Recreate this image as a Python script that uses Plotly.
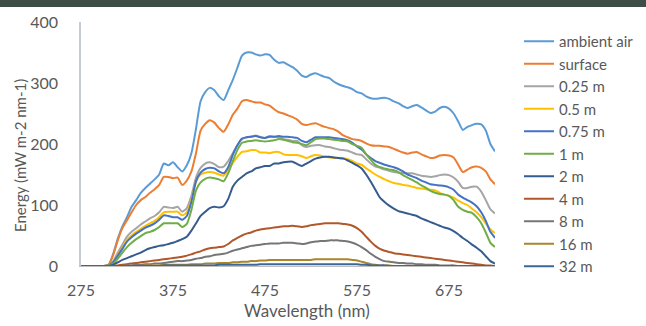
import plotly.graph_objects as go

# Wavelength grid (nm), 5 nm steps
wavelength = list(range(275, 726, 5))

ambient_air = [
    0, 0, 0, 0, 0, 0, 2, 20, 45, 65,
    80, 97, 108, 120, 128, 135, 142, 150, 168, 165,
    170, 162, 155, 165, 185, 225, 270, 285, 292, 288,
    278, 272, 288, 305, 325, 345, 350, 350, 347, 345,
    347, 346, 338, 333, 334, 330, 326, 320, 312, 310,
    314, 316, 313, 310, 308, 302, 298, 295, 293, 290,
    285, 283, 278, 275, 274, 275, 276, 274, 270, 267,
    262, 259, 262, 264, 260, 255, 251, 253, 259, 261,
    258, 250, 237, 223, 228, 231, 233, 232, 222, 200,
    188,
]
surface = [
    0, 0, 0, 0, 0, 0, 2, 18, 42, 62,
    75, 88, 100, 108, 113, 120, 126, 133, 146, 146,
    144, 145, 133, 140, 155, 185, 222, 233, 239, 235,
    226, 220, 232, 248, 258, 270, 272, 270, 268, 268,
    265, 263, 257, 252, 250, 247, 244, 240, 233, 231,
    233, 234, 231, 228, 226, 224, 220, 214, 211, 208,
    207, 205, 201, 198, 197, 197, 196, 195, 192, 189,
    186, 184, 186, 187, 183, 180, 177, 178, 181, 182,
    181, 178, 166, 154, 158, 162, 163, 161, 155, 142,
    134,
]
d_025 = [
    0, 0, 0, 0, 0, 0, 1, 8, 22, 35,
    48, 56, 62, 68, 73, 78, 82, 88, 97, 96,
    95, 97, 89, 95, 115, 145, 161, 168, 170, 167,
    162, 163, 172, 185, 198, 208, 211, 212, 214, 211,
    210, 213, 212, 211, 208, 207, 205, 205, 198, 195,
    197, 198, 198, 196, 195, 193, 191, 190, 189, 186,
    183, 182, 175, 168, 163, 161, 158, 156, 154, 153,
    152, 152, 152, 150, 148, 147, 146, 147, 149, 150,
    149, 145, 138, 128, 128, 130, 130, 122, 108, 93,
    86,
]
d_05 = [
    0, 0, 0, 0, 0, 0, 1, 6, 18, 30,
    43, 50, 56, 61, 66, 70, 74, 80, 88, 89,
    89, 89, 83, 88, 108, 138, 150, 153, 154, 153,
    150, 148, 158, 169, 179, 187, 188, 190, 190, 186,
    186, 185, 187, 187, 183, 182, 182, 182, 180, 177,
    180, 182, 181, 179, 178, 177, 177, 177, 175, 172,
    168, 166, 160, 155, 150, 146, 142, 139, 136, 135,
    133, 132, 130, 128, 127, 126, 125, 124, 120, 117,
    115, 112, 107, 103, 100, 94, 88, 80, 70, 60,
    54,
]
d_075 = [
    0, 0, 0, 0, 0, 0, 1, 6, 17, 28,
    40, 47, 53, 58, 63, 66, 70, 76, 83, 82,
    80, 80, 76, 82, 105, 139, 153, 159, 161, 160,
    155, 152, 162, 182, 198, 209, 211, 212, 213, 211,
    210, 212, 212, 213, 212, 212, 211, 210, 205, 203,
    207, 211, 211, 211, 211, 210, 209, 208, 206, 202,
    196, 191, 183, 177, 172, 169, 166, 164, 162, 159,
    155, 150, 147, 144, 140, 137, 134, 133, 132, 131,
    129, 125, 117, 112, 108, 104, 98, 88, 74, 56,
    46,
]
d_1 = [
    0, 0, 0, 0, 0, 0, 1, 4, 12, 22,
    31, 38, 44, 49, 54, 56, 59, 64, 70, 70,
    70, 70, 64, 69, 92, 124, 137, 143, 145, 144,
    142, 139, 152, 172, 190, 202, 204, 205, 206, 205,
    204, 205, 206, 208, 207, 205, 203, 202, 200, 198,
    203, 208, 209, 209, 208, 207, 206, 205, 204, 200,
    197, 194, 183, 174, 166, 162, 160, 158, 157, 154,
    149, 145, 141, 137, 132, 128, 123, 120, 118, 117,
    115, 108, 97, 92, 89, 87, 80, 70, 55, 38,
    31,
]
d_2 = [
    0, 0, 0, 0, 0, 0, 0, 2, 6, 10,
    13, 16, 19, 22, 26, 29, 31, 33, 34, 36,
    38, 41, 44, 48, 58, 70, 82, 89, 95, 97,
    96, 98, 110, 130, 140, 146, 152, 155, 160, 162,
    164, 164, 168, 168, 170, 171, 171, 167, 164, 168,
    172, 176, 178, 179, 179, 178, 177, 176, 173, 169,
    165, 160, 150, 138, 125, 112, 105, 99, 94, 90,
    88, 86, 84, 82, 78, 75, 72, 69, 66, 63,
    61, 57, 52, 46, 41, 35, 30, 24, 16, 8,
    4,
]
d_4 = [
    0, 0, 0, 0, 0, 0, 0, 0, 1, 2,
    3, 4, 5, 6, 7, 8, 9, 10, 11, 12,
    13, 14, 15, 17, 19, 22, 24, 27, 29, 30,
    31, 32, 36, 42, 46, 50, 53, 55, 58, 60,
    61, 62, 63, 64, 65, 65, 66, 65, 64, 65,
    67, 68, 69, 70, 70, 70, 70, 69, 68, 66,
    62, 56, 48, 40, 33, 28, 25, 23, 21, 20,
    19, 18, 17, 16, 15, 14, 13, 12, 11, 10,
    9, 8, 7, 6, 5, 4, 3, 2, 1, 1,
    0,
]
d_8 = [
    0, 0, 0, 0, 0, 0, 0, 0, 0, 0,
    1, 1, 2, 2, 3, 3, 4, 4, 5, 6,
    7, 8, 8, 9, 10, 12, 13, 15, 16, 18,
    19, 20, 22, 25, 27, 29, 31, 33, 34, 35,
    36, 37, 37, 37, 38, 38, 38, 37, 36, 37,
    39, 40, 41, 41, 42, 42, 42, 41, 40, 38,
    35, 31, 26, 20, 15, 11, 8, 7, 6, 5,
    5, 4, 4, 3, 3, 2, 2, 2, 1, 1,
    1, 1, 0, 0, 0, 0, 0, 0, 0, 0,
    0,
]
d_16 = [
    0, 0, 0, 0, 0, 0, 0, 0, 0, 0,
    0, 0, 0, 0, 1, 1, 1, 1, 2, 2,
    2, 2, 2, 2, 3, 3, 3, 4, 4, 4,
    5, 5, 5, 6, 6, 7, 7, 8, 8, 9,
    9, 10, 10, 10, 10, 10, 10, 10, 10, 10,
    10, 11, 11, 11, 11, 11, 11, 11, 11, 10,
    9, 7, 5, 3, 2, 1, 1, 1, 0, 0,
    0, 0, 0, 0, 0, 0, 0, 0, 0, 0,
    0, 0, 0, 0, 0, 0, 0, 0, 0, 0,
    0,
]
d_32 = [
    0, 0, 0, 0, 0, 0, 0, 0, 0, 0,
    0, 0, 0, 0, 0, 0, 0, 0, 1, 1,
    1, 1, 1, 1, 1, 1, 1, 1, 1, 1,
    2, 2, 2, 2, 2, 2, 2, 2, 2, 3,
    3, 3, 3, 3, 3, 3, 3, 3, 3, 3,
    3, 3, 3, 3, 3, 3, 3, 3, 3, 3,
    3, 2, 2, 1, 1, 1, 1, 0, 0, 0,
    0, 0, 0, 0, 0, 0, 0, 0, 0, 0,
    0, 0, 0, 0, 0, 0, 0, 0, 0, 0,
    0,
]

series_names = ["ambient air", "surface", "0.25 m", "0.5 m", "0.75 m",
                "1 m", "2 m", "4 m", "8 m", "16 m", "32 m"]
series_values = [ambient_air, surface, d_025, d_05, d_075,
                 d_1, d_2, d_4, d_8, d_16, d_32]
series_colors = ["#5B9BD5", "#ED7D31", "#A5A5A5", "#FFC000", "#4472C4",
                 "#70AD47", "#355C8E", "#B0582A", "#767676", "#A8862A", "#3B679A"]

x_ticks = [275, 375, 475, 575, 675]
y_ticks = [0, 100, 200, 300, 400]

W, H = 646, 326
ML, MR, MT, MB = 81, 151, 22, 60
PW, PH = W - ML - MR, H - MT - MB

FONT = "Lato"
TXT = "#595959"

fig = go.Figure()
for name, vals, col in zip(series_names, series_values, series_colors):
    fig.add_trace(go.Scatter(
        x=wavelength, y=vals, name=name, mode="lines",
        line=dict(color=col, width=2, shape="spline", smoothing=0.6),
    ))


def px_x(p):
    return (p - ML) / PW


def px_y(p):
    return (H - MB - p) / PH


fig.update_layout(
    width=W, height=H,
    margin=dict(l=ML, r=MR, t=MT, b=MB, autoexpand=False),
    paper_bgcolor="white", plot_bgcolor="white",
    font=dict(family=FONT, color=TXT, size=16),
    xaxis=dict(
        range=[275, 725], tickvals=x_ticks, ticktext=[str(t) for t in x_ticks],
        showgrid=False, zeroline=False, showline=True, linecolor="#bfbfbf",
        linewidth=1, ticks="", ticklabelstandoff=10,
        tickfont=dict(size=16, color=TXT),
    ),
    yaxis=dict(
        range=[0, 400], tickvals=y_ticks,
        showgrid=False, zeroline=False, showline=True, linecolor="#c5cad3",
        linewidth=1.5, ticks="", ticklabelstandoff=18,
        tickfont=dict(size=16, color=TXT),
    ),
    legend=dict(
        x=px_x(519), y=px_y(25), xanchor="left", yanchor="top",
        font=dict(size=15, color=TXT), tracegroupgap=0,
        bgcolor="rgba(0,0,0,0)", maxheight=1000,
    ),
    showlegend=True,
)

fig.add_annotation(
    text="Energy (mW m-2 nm-1)", xref="paper", yref="paper",
    x=px_x(20), y=px_y(156), xanchor="center", yanchor="middle",
    textangle=-90, showarrow=False, font=dict(size=15, color=TXT),
)

fig.add_annotation(
    text="Wavelength (nm)", xref="paper", yref="paper",
    x=px_x(307), y=px_y(310), xanchor="center", yanchor="middle",
    showarrow=False, font=dict(size=17, color=TXT),
)

# dark strip across the top edge
fig.add_shape(
    type="rect", xref="paper", yref="paper",
    x0=px_x(0), x1=px_x(W), y0=px_y(7), y1=px_y(0),
    fillcolor="#3f4d47", line=dict(width=0), layer="above",
)

fig.write_html("out.html")
